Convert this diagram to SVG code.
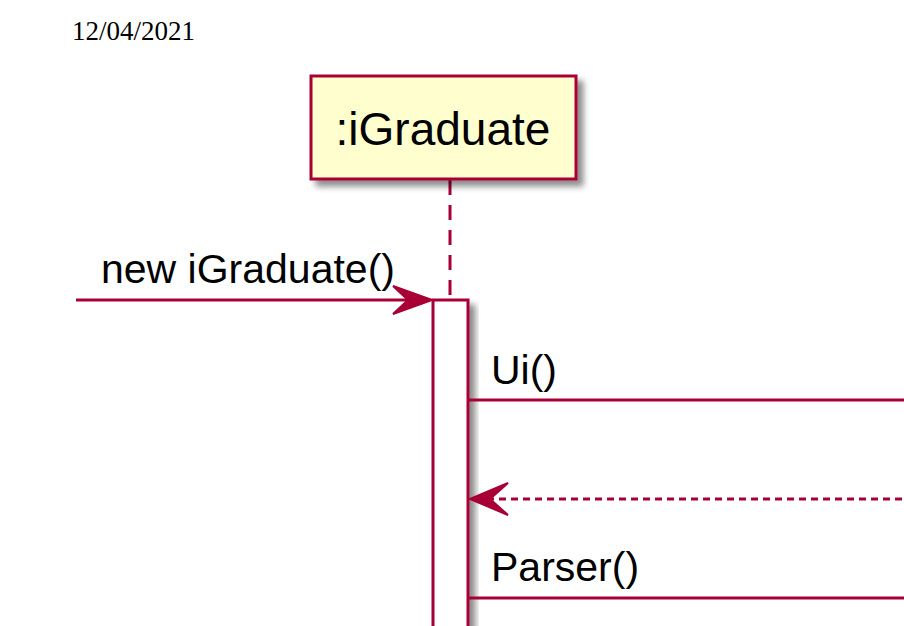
<svg xmlns="http://www.w3.org/2000/svg" width="904" height="626" viewBox="0 0 904 626">
<style>
.lbl{font-family:"Liberation Sans",Arial,sans-serif;font-size:41px;fill:#000}
.msg{stroke:#A80036;stroke-width:3;fill:none}
.head{fill:#A80036;stroke:#A80036;stroke-width:2}
</style>
<defs>
<filter id="sh" x="-20%" y="-20%" width="150%" height="150%">
<feGaussianBlur in="SourceAlpha" stdDeviation="3"/>
<feOffset dx="6" dy="6" result="b"/>
<feComponentTransfer><feFuncA type="linear" slope="0.45"/></feComponentTransfer>
<feMerge><feMergeNode/><feMergeNode in="SourceGraphic"/></feMerge>
</filter>
</defs>
<rect width="904" height="626" fill="#fff"/>
<text x="72" y="40" font-family="Liberation Serif,Times New Roman,serif" font-size="27" fill="#000">12/04/2021</text>
<g id="lifeline">
<line x1="450" y1="180" x2="450" y2="300" stroke="#A80036" stroke-width="3" stroke-dasharray="15,10"/>
</g>
<g id="participant-iGraduate">
<rect x="311" y="76" width="265" height="103" fill="#FEFECE" stroke="#A80036" stroke-width="3" filter="url(#sh)"/>
<text x="443" y="145" text-anchor="middle" font-family="Liberation Sans,Arial,sans-serif" font-size="46" fill="#000">:iGraduate</text>
</g>
<g id="activation">
<rect x="433" y="300" width="35" height="340" fill="#fff" stroke="#A80036" stroke-width="3" filter="url(#sh)"/>
</g>
<g id="connectors">
<line class="msg" x1="76" y1="300" x2="420" y2="300"/>
<polygon class="head" points="432,300 393,286 408,300 393,314"/>
<text class="lbl" x="101" y="283">new iGraduate()</text>
<line class="msg" x1="469" y1="400" x2="904" y2="400"/>
<text class="lbl" x="491" y="384">Ui()</text>
<line class="msg" x1="475" y1="499" x2="904" y2="499" stroke-dasharray="7,5"/>
<polygon class="head" points="470,499 508,483 490,499 508,515" stroke-width="1.5"/>
<line class="msg" x1="469" y1="598" x2="904" y2="598"/>
<text class="lbl" x="491" y="581">Parser()</text>
</g>
</svg>
